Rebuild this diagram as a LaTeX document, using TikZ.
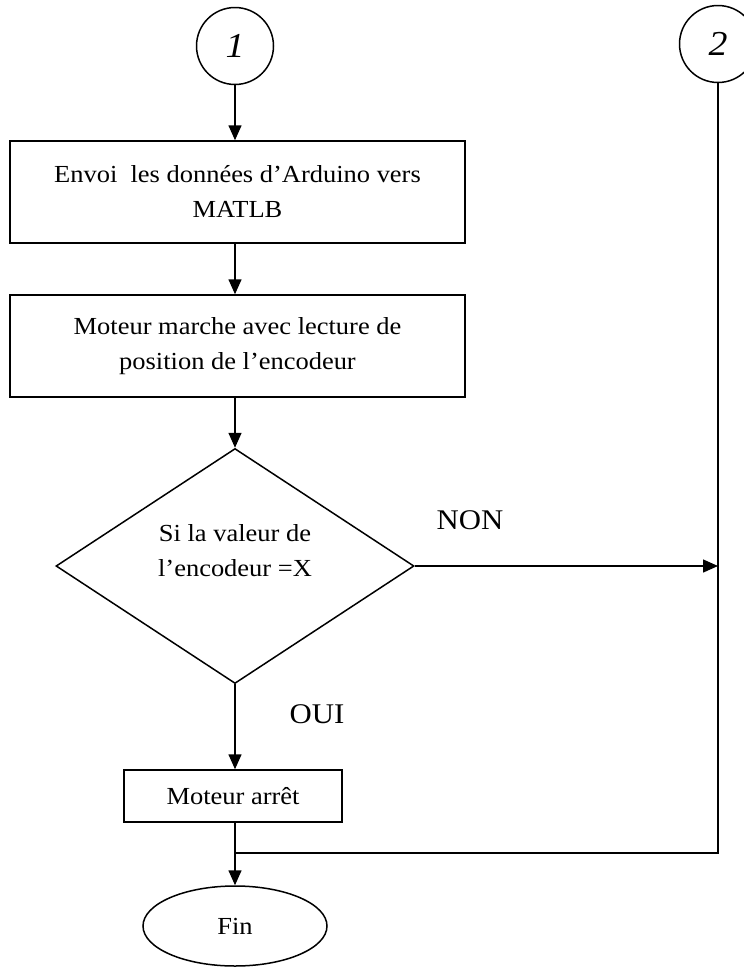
\documentclass[tikz,border=0pt]{standalone}
\usepackage{fontspec}
\setmainfont{Liberation Serif}[FakeStretch=1.08]
\usetikzlibrary{shapes.geometric,arrows.meta}
\begin{document}
\begin{tikzpicture}[x=1pt,y=-1pt, line width=1.5pt,
  box/.style={draw, rectangle, align=center, inner sep=0pt, font=\fontsize{24.5}{35}\selectfont},
  txt/.style={align=center, inner sep=0pt, font=\fontsize{24.5}{35}\selectfont},
  conn/.style={circle, draw, minimum size=77pt, inner sep=0pt, font=\fontsize{35}{36}\selectfont\itshape},
  arr/.style={-{Triangle[length=15pt,width=13pt]}},
  lab/.style={inner sep=0pt, font=\fontsize{28.5}{34}\selectfont}]
\useasboundingbox (0,0) rectangle (744,967);
% connectors (circles)
\node[conn] (c1) at (235,46) {1};
\node[conn] (c2) at (718,44) {2};
% process boxes
\node[box, minimum width=455pt, minimum height=102pt] (b1) at (237.5,192) {Envoi\ \ les données d’Arduino vers\\MATLB};
\node[box, minimum width=455pt, minimum height=102pt] (b2) at (237.5,346) {Moteur marche avec lecture de\\position de l’encodeur};
% decision
\node[draw, diamond, minimum width=358pt, minimum height=235pt, inner sep=0pt] (d) at (235,566) {};
\node[txt] (dt) at (235,551) {Si la valeur de\\l’encodeur =X};
% stop box and end
\node[box, minimum width=218pt, minimum height=52pt] (b3) at (233,796) {Moteur arrêt};
\node[draw, ellipse, minimum width=184pt, minimum height=80pt, inner sep=0pt, font=\fontsize{24.5}{30}\selectfont] (fin) at (235,926) {Fin};
\coordinate (j) at (235,853);
% labels
\node[lab] (non) at (470,520) {NON};
\node[lab] (oui) at (317,714) {OUI};
% arrows
\draw[arr] (c1.south) -- (c1.south |- b1.north);
\draw[arr] (b1.south -| c1) -- (b2.north -| c1);
\draw[arr] (b2.south -| c1) -- (d.north);
\draw[arr] (d.east) -- (d.east -| c2);
\draw[arr] (d.south) -- (d.south |- b3.north);
\draw (c2.south) |- (j);
\draw[arr] (b3.south -| j) -- (fin.north);
\end{tikzpicture}
\end{document}
